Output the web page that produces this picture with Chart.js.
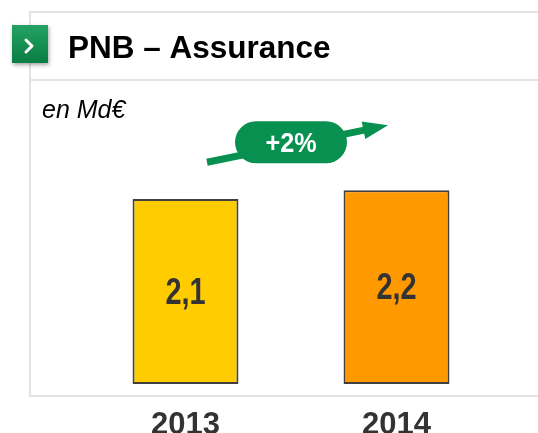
<!DOCTYPE html>
<html><head><meta charset="utf-8">
<script src="https://cdn.jsdelivr.net/npm/chart.js@4"></script>
<style>html,body{margin:0;padding:0;background:#fff;overflow:hidden}</style>
</head><body>
<canvas id="c" width="538" height="433" style="display:block;width:538px;height:433px"></canvas>
<script>
const categories = ['2013', '2014'];
const values = [2.1, 2.2];
const valueLabels = ['2,1', '2,2'];
const barColors = ['#FFCC00', '#FF9900'];
const growthLabel = '+2%';
const titleText = 'PNB – Assurance';
const unitText = 'en Md€';

const FONT = '"Liberation Sans", Arial, Helvetica, sans-serif';
const GREEN = '#07904f';

const decor = {
  id: 'decor',
  beforeDraw(chart) {
    const ctx = chart.ctx;
    ctx.save();
    ctx.fillStyle = '#fff';
    ctx.fillRect(0, 0, chart.width, chart.height);
    // frame
    ctx.strokeStyle = '#e3e3e3';
    ctx.lineWidth = 2;
    ctx.beginPath();
    ctx.moveTo(30, 12); ctx.lineTo(538, 12);
    ctx.moveTo(30, 80); ctx.lineTo(538, 80);
    ctx.moveTo(30, 396); ctx.lineTo(538, 396);
    ctx.moveTo(30, 11); ctx.lineTo(30, 397);
    ctx.stroke();
    // icon
    ctx.save();
    ctx.shadowColor = 'rgba(0,0,0,0.35)';
    ctx.shadowBlur = 4;
    ctx.shadowOffsetX = 1;
    ctx.shadowOffsetY = 2;
    const g = ctx.createLinearGradient(0, 25, 0, 63);
    g.addColorStop(0, '#23a263');
    g.addColorStop(1, '#0a7d44');
    ctx.fillStyle = g;
    ctx.fillRect(12, 25, 36, 38);
    ctx.restore();
    ctx.strokeStyle = '#fff';
    ctx.lineWidth = 3;
    ctx.lineCap = 'round';
    ctx.lineJoin = 'round';
    ctx.beginPath();
    ctx.moveTo(26, 40); ctx.lineTo(32, 46); ctx.lineTo(26, 52);
    ctx.stroke();
    // title
    ctx.fillStyle = '#000';
    ctx.font = 'bold 31.5px ' + FONT;
    ctx.textBaseline = 'alphabetic';
    ctx.textAlign = 'left';
    ctx.fillText(titleText, 68, 58);
    // unit
    ctx.font = 'italic 25px ' + FONT;
    ctx.fillText(unitText, 42, 118);
    ctx.restore();
  },
  afterDatasetsDraw(chart) {
    const ctx = chart.ctx;
    const meta = chart.getDatasetMeta(0);
    ctx.save();
    // value labels
    ctx.fillStyle = '#333';
    ctx.textAlign = 'center';
    ctx.textBaseline = 'middle';
    ctx.font = 'bold 37px ' + FONT;
    meta.data.forEach((bar, i) => {
      const cy = (bar.y + bar.base) / 2;
      ctx.save();
      ctx.translate(bar.x, cy + 2);
      ctx.scale(0.78, 1);
      ctx.fillText(valueLabels[i], 0, 0);
      ctx.restore();
    });
    // growth arrow + badge
    const x0 = meta.data[0].x, x1 = meta.data[meta.data.length - 1].x;
    const topY = Math.min(...meta.data.map(b => b.y));
    const cx = (x0 + x1) / 2, cy = topY - 48;
    const sx = cx - 84, sy = cy + 20, tx = cx + 97, ty = cy - 17;
    const ang = Math.atan2(ty - sy, tx - sx);
    const hl = 25, hw = 9;
    const bx = tx - hl * Math.cos(ang), by = ty - hl * Math.sin(ang);
    ctx.strokeStyle = GREEN;
    ctx.fillStyle = GREEN;
    ctx.lineWidth = 7;
    ctx.lineCap = 'butt';
    ctx.beginPath();
    ctx.moveTo(sx, sy); ctx.lineTo(bx + 2 * Math.cos(ang), by + 2 * Math.sin(ang));
    ctx.stroke();
    ctx.beginPath();
    ctx.moveTo(tx, ty);
    ctx.lineTo(bx + hw * Math.sin(ang), by - hw * Math.cos(ang));
    ctx.lineTo(bx - hw * Math.sin(ang), by + hw * Math.cos(ang));
    ctx.closePath();
    ctx.fill();
    // badge
    const bw = 112, bh = 42, r = 21;
    const L = cx - bw / 2, T = cy - bh / 2;
    ctx.beginPath();
    ctx.moveTo(L + r, T);
    ctx.lineTo(L + bw - r, T);
    ctx.arc(L + bw - r, T + r, r, -Math.PI / 2, Math.PI / 2);
    ctx.lineTo(L + r, T + bh);
    ctx.arc(L + r, T + r, r, Math.PI / 2, Math.PI * 1.5);
    ctx.closePath();
    ctx.fill();
    ctx.fillStyle = '#fff';
    ctx.font = 'bold 28px ' + FONT;
    ctx.textAlign = 'center';
    ctx.textBaseline = 'middle';
    ctx.save();
    ctx.translate(cx, cy + 2);
    ctx.scale(0.9, 1);
    ctx.fillText(growthLabel, 0, 0);
    ctx.restore();
    ctx.restore();
  }
};

new Chart(document.getElementById('c'), {
  type: 'bar',
  data: {
    labels: categories,
    datasets: [{
      data: values,
      backgroundColor: barColors,
      borderColor: '#404040',
      borderWidth: 2,
      borderSkipped: false,
      barPercentage: 1,
      categoryPercentage: 0.502
    }]
  },
  options: {
    responsive: false,
    devicePixelRatio: 1,
    animation: false,
    layout: { padding: { left: 80, right: 36, top: 111, bottom: 0 } },
    plugins: { legend: { display: false }, tooltip: { enabled: false }, title: { display: false } },
    scales: {
      y: { display: false, min: 0, max: 3.1 },
      x: {
        grid: { display: false, drawTicks: false },
        border: { display: false },
        ticks: { color: '#333', padding: 23, font: { family: FONT, size: 31, weight: 'bold' } },
        afterFit(s) { s.height = 49; }
      }
    }
  },
  plugins: [decor]
});
</script>
</body></html>
